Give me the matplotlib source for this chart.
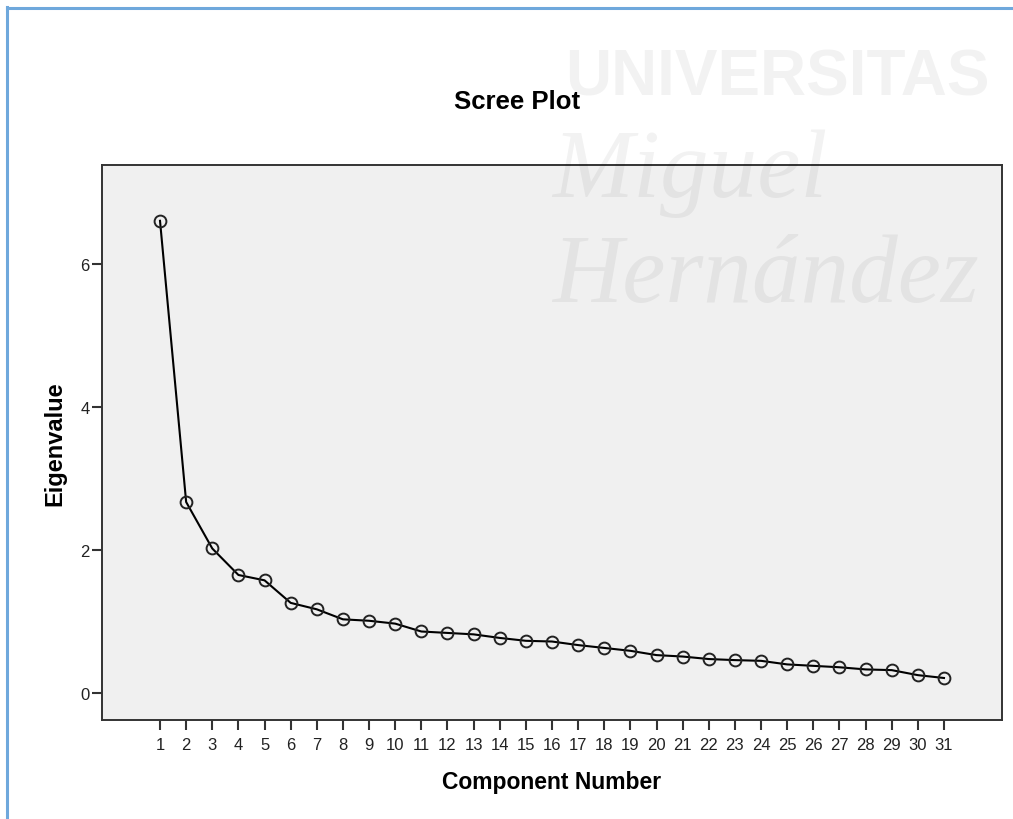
import matplotlib
matplotlib.use("Agg")
import matplotlib.pyplot as plt
from matplotlib.lines import Line2D

plt.rcParams['font.family'] = ['Liberation Sans', 'DejaVu Sans']

# Eigenvalues
components = list(range(1, 32))
eigenvalues = [6.60, 2.67, 2.02, 1.65, 1.575, 1.26, 1.17, 1.03, 1.01, 0.97,
               0.86, 0.84, 0.82, 0.77, 0.73, 0.72, 0.67, 0.63, 0.59, 0.53,
               0.51, 0.475, 0.46, 0.45, 0.40, 0.38, 0.36, 0.33, 0.32, 0.25,
               0.21]
y_ticks = [0, 2, 4, 6]

fig = plt.figure(figsize=(10.13, 8.2), dpi=100)
fig.patch.set_facecolor('white')

# marco azul del documento
W, H = 1013, 820
fig.add_artist(Line2D([7 / W, 7 / W], [0, 1 - 8 / H], color='#6fa8dc', lw=2.2))
fig.add_artist(Line2D([7 / W, 1], [1 - 9 / H, 1 - 9 / H], color='#6fa8dc', lw=2.2))

ax = fig.add_axes([102 / W, 1 - 721 / H, 900 / W, 555 / H])
ax.set_facecolor('#f0f0f0')

ax.plot(components, eigenvalues, color='black', lw=1.5, marker='o',
        markersize=8.5, markerfacecolor='none', markeredgecolor='#222222',
        markeredgewidth=1.4, zorder=3)

ax.set_xlim(-1.22, 33.22)
ax.set_ylim(-0.377, 7.38)
ax.set_xticks(components)
ax.set_yticks(y_ticks)
ax.tick_params(axis='both', direction='out', length=7, width=1.5,
               color='#333333', labelsize=12, labelcolor='#222222')
ax.tick_params(axis='x', pad=5)
ax.tick_params(axis='y', pad=2)

for side in ['left', 'right', 'top', 'bottom']:
    ax.spines[side].set_color('#333333')
    ax.spines[side].set_linewidth(1.4)

ax.set_xlabel('Component Number', fontsize=16.5, fontweight='bold', labelpad=13)
ax.set_ylabel('Eigenvalue', fontsize=17, fontweight='bold', labelpad=10)

fig.text(517 / W, 1 - 102 / H, 'Scree Plot', fontsize=18.5, fontweight='bold',
         ha='center', va='center', color='black')

# marca de agua de la universidad
wm = dict(color='black', alpha=0.05, zorder=10)
fig.text(565 / W, 1 - 95 / H, 'UNIVERSITAS', fontsize=46, fontweight='bold',
         ha='left', va='baseline', **wm)
fig.text(552 / W, 1 - 197 / H, 'Miguel', fontsize=70, style='italic',
         family=['Liberation Serif', 'DejaVu Serif'], ha='left',
         va='baseline', **wm)
fig.text(552 / W, 1 - 302 / H, 'Hernández', fontsize=70, style='italic',
         family=['Liberation Serif', 'DejaVu Serif'], ha='left',
         va='baseline', **wm)

fig.savefig('out.png', dpi=100, facecolor=fig.get_facecolor())
